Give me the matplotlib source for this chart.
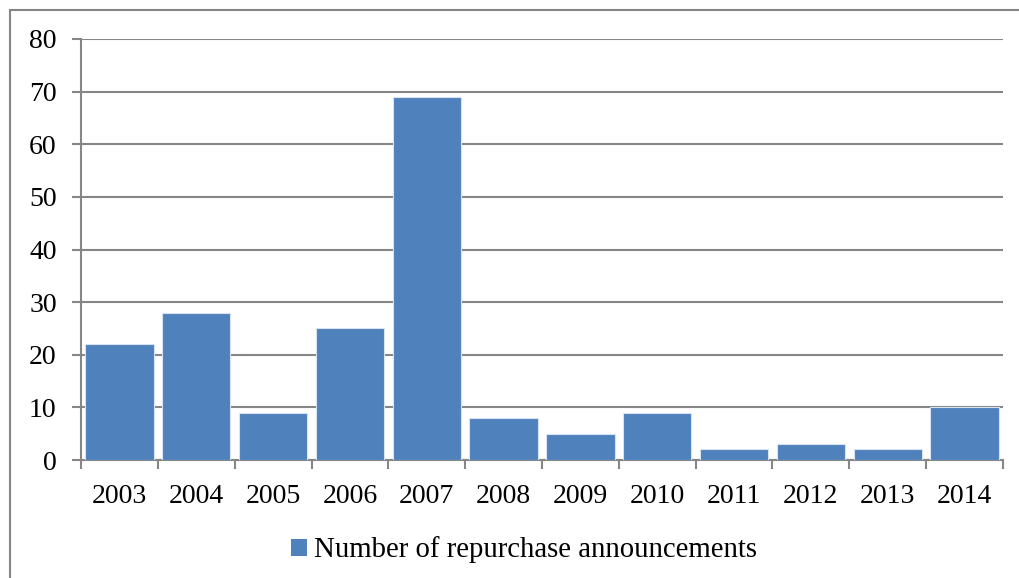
import matplotlib
matplotlib.use("Agg")
import matplotlib.pyplot as plt
from matplotlib.patches import Rectangle, Patch

years = ["2003", "2004", "2005", "2006", "2007", "2008",
         "2009", "2010", "2011", "2012", "2013", "2014"]
announcements = [22, 28, 9, 25, 69, 8, 5, 9, 2, 3, 2, 10]
y_ticks = [0, 10, 20, 30, 40, 50, 60, 70, 80]
series_name = "Number of repurchase announcements"

bar_color = "#4F81BD"
axis_gray = "#868686"
plt.rcParams["font.family"] = ["Liberation Serif", "DejaVu Serif"]
FS = 20

fig = plt.figure(figsize=(10.2, 5.78), dpi=100)
fig.patches.append(Rectangle((10 / 1020, -0.1), 1.2, (578 - 10) / 578 + 0.1,
                             transform=fig.transFigure, fill=False,
                             edgecolor=axis_gray, linewidth=1.5))

ax = fig.add_axes([81 / 1020, 1 - 460 / 578, (1003 - 81) / 1020, (460 - 39) / 578])
x = list(range(len(years)))
ax.bar(x, announcements, width=0.89, color=bar_color,
       edgecolor="#D8E2F0", linewidth=0.8, zorder=3)

ax.set_xlim(-0.5, len(years) - 0.5)
ax.set_ylim(0, 80)
ax.set_yticks(y_ticks)
ax.set_yticklabels([str(v) for v in y_ticks], fontsize=FS)
ax.yaxis.grid(True, color=axis_gray, linewidth=1.5, zorder=0)
ax.set_axisbelow(True)

# category labels centred under bars, tick marks at category boundaries
ax.set_xticks(x)
ax.set_xticklabels(years, fontsize=FS)
ax.tick_params(axis="x", length=0, pad=17)
ax.set_xticks([i - 0.5 for i in range(len(years) + 1)], minor=True)
ax.tick_params(axis="x", which="minor", length=6.5, width=1.5, color=axis_gray, direction="out")
ax.tick_params(axis="y", length=6.5, width=1.5, color=axis_gray, direction="out", pad=11)

for side in ["top", "right"]:
    ax.spines[side].set_visible(False)
for side in ["left", "bottom"]:
    ax.spines[side].set_color(axis_gray)
    ax.spines[side].set_linewidth(1.5)

handle = Patch(facecolor=bar_color, edgecolor="none")
fig.legend([handle], [series_name], loc="center", bbox_to_anchor=(524 / 1020, 1 - 550 / 578),
           frameon=False, fontsize=20.7, handlelength=0.55, handleheight=0.55,
           handletextpad=0.25)

fig.savefig("out.png", dpi=100)
